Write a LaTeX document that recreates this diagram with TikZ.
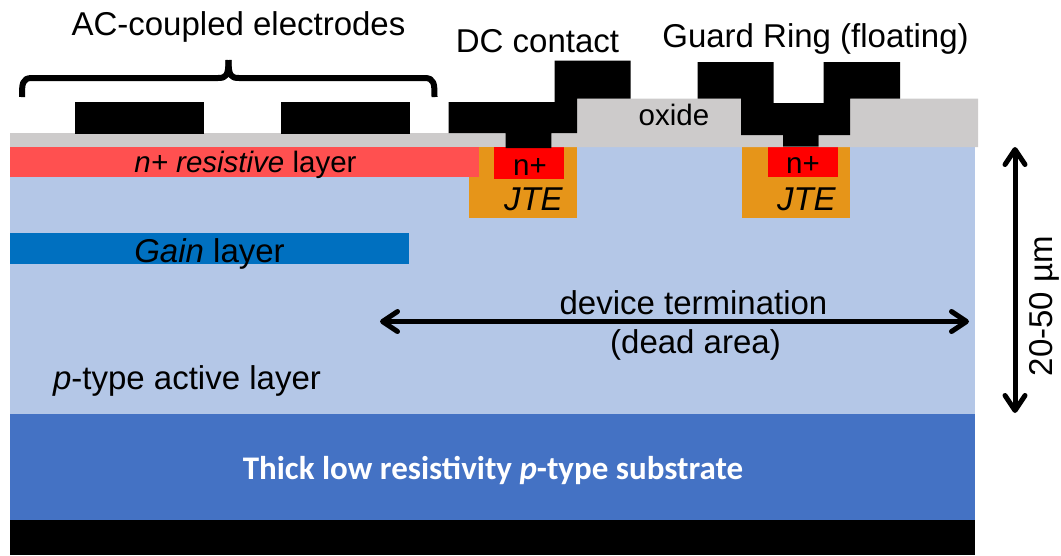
\documentclass[tikz,border=0pt]{standalone}
\usepackage{fontspec}
\setmainfont{Liberation Sans}
\newfontfamily\subfont{Carlito}
\usetikzlibrary{arrows.meta}
\definecolor{oxgray}{HTML}{CDCBCB}
\definecolor{active}{HTML}{B4C7E7}
\definecolor{subst}{HTML}{4472C4}
\definecolor{resist}{HTML}{FF5050}
\definecolor{gainc}{HTML}{0070C0}
\definecolor{jtec}{HTML}{E69519}
\definecolor{nplus}{HTML}{FF0000}
\tikzset{
  lbl/.style={anchor=base,inner sep=0pt,font=\fontsize{33}{36}\selectfont},
  lblsm/.style={anchor=base,inner sep=0pt,font=\fontsize{29.5}{34}\selectfont},
  dim/.style={line width=5pt,{Straight Barb[length=15pt,width=20pt,line width=5pt,round]}-{Straight Barb[length=15pt,width=20pt,line width=5pt,round]}},
}
\begin{document}
\begin{tikzpicture}[x=1pt,y=-1pt]
\useasboundingbox (0,0) rectangle (1061,555);
% layers
\fill[active] (9.5,147) rectangle (975,414);
\fill[subst] (9.5,414) rectangle (975,520);
\fill[black] (9.5,520) rectangle (975,555);
\fill[gainc] (9.5,233) rectangle (409,263.5);
% JTE
\fill[jtec] (468.5,147) rectangle (577,218);
\fill[jtec] (742,147) rectangle (850,218);
\fill[resist] (9.5,147) rectangle (478.5,177);
\fill[nplus] (494,147) rectangle (564,179);
\fill[nplus] (768,147) rectangle (837.5,177);
% oxide
\fill[oxgray] (9.5,133) -- (506,133) -- (506,147) -- (9.5,147) -- cycle;
\fill[oxgray] (551,147) -- (551,133) -- (577,133) -- (577,98.7) -- (741,98.7) -- (741,135) -- (783,135) -- (783,147) -- cycle;
\fill[oxgray] (818.5,147) -- (818.5,135) -- (850,135) -- (850,98.7) -- (978,98.7) -- (978,147) -- cycle;
% electrodes
\fill[black] (75,102) rectangle (204,134);
\fill[black] (280.5,102) rectangle (410,134);
\fill[black] (448.5,102) -- (554.7,102) -- (554.7,60.7) -- (630.5,60.7) -- (630.5,98.7) -- (577,98.7) -- (577,133) -- (551.3,133) -- (551.3,148) -- (505.5,148) -- (505.5,133) -- (448.5,133) -- cycle;
\fill[black] (697.5,62) -- (773.7,62) -- (773.7,103) -- (823.5,103) -- (823.5,62) -- (900,62) -- (900,98.7) -- (850,98.7) -- (850,135) -- (818.5,135) -- (818.5,146.5) -- (783,146.5) -- (783,135) -- (741,135) -- (741,98.7) -- (697.5,98.7) -- cycle;
% brace
\draw[line width=6pt,line join=round] (22,97) .. controls (22,84) and (22,78) .. (32,78) -- (218,78) .. controls (226,78) and (228.5,76) .. (228.5,60);
\draw[line width=6pt,line join=round] (434.5,97) .. controls (434.5,84) and (434.5,78) .. (424.5,78) -- (239,78) .. controls (231,78) and (228.5,76) .. (228.5,60);
% labels
\node[lbl] (ac) at (238.5,35) {AC-coupled electrodes};
\node[lbl] (dc) at (537.5,52.5) {DC contact};
\node[lbl] (gr) at (815.5,47) {Guard Ring (floating)};
\node[lblsm] (ox) at (674,125.7) {oxide};
\node[lblsm] (res) at (245.5,172) {\textit{n+ resistive} layer};
\node[lblsm] (n1) at (530,175) {n+};
\node[lblsm] (n2) at (803,173) {n+};
\node[lbl] (j1) at (533.5,210) {\textit{JTE}};
\node[lbl] (j2) at (806.5,210) {\textit{JTE}};
\node[lbl] (gain) at (209.5,262) {\textit{Gain} layer};
\node[lbl] (dev) at (693.5,314) {device termination};
\node[lbl] (dead) at (695.5,353) {(dead area)};
\node[lbl] (act) at (187,389) {\textit{p}-type active layer};
\node[anchor=base,inner sep=0pt,text=white,font=\subfont\bfseries\fontsize{33}{36}\selectfont] (sub) at (493,479) {Thick low resistivity \textit{p}-type substrate};
\node[lbl,rotate=90,anchor=base] (um) at (1052,306) {20-50 \textmu m};
% arrows
\coordinate (ha) at (380,321.5);
\coordinate (hb) at (969,321.5);
\coordinate (va) at (1015,147);
\coordinate (vb) at (1015,413);
\draw[dim] (ha) -- (hb);
\draw[dim] (va) -- (vb);
\end{tikzpicture}
\end{document}
